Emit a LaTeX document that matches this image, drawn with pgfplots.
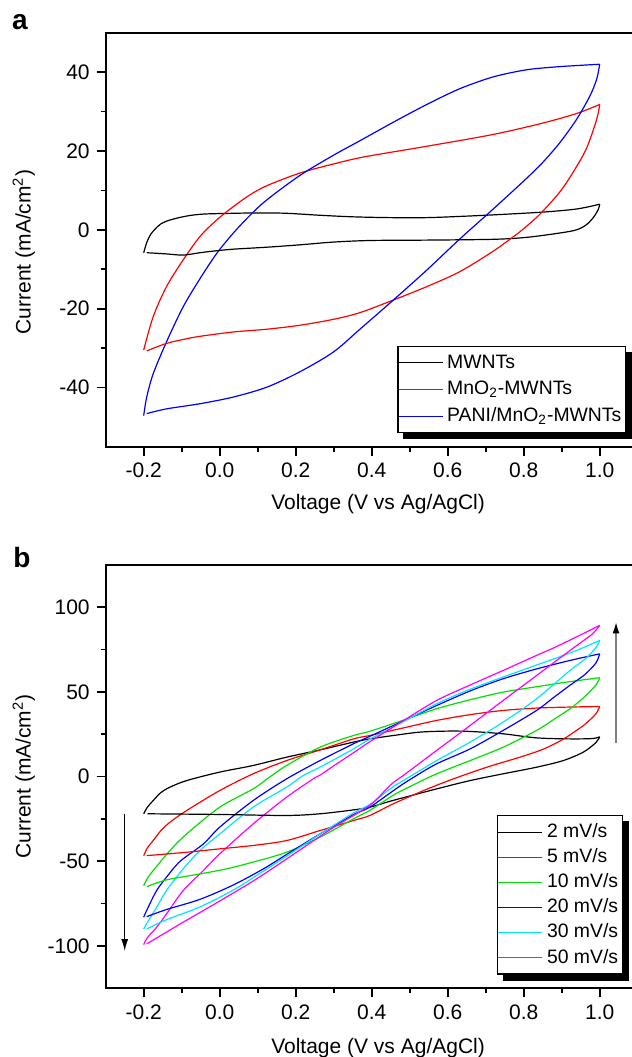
\documentclass[border=0pt]{standalone}
\usepackage{fontspec}
\setmainfont{Liberation Sans}
\usepackage{pgfplots}
\pgfplotsset{compat=1.18}
\usetikzlibrary{arrows.meta,backgrounds}

\definecolor{cvgreen}{RGB}{0,225,0}
\definecolor{cvcyan}{RGB}{0,230,255}
\definecolor{cvmag}{RGB}{255,0,255}

\pgfplotsset{
  cvaxis/.style={
    scale only axis, width=266pt,
    xmin=-0.3, xmax=1.1,
    xtick={-0.2,0,0.2,0.4,0.6,0.8,1.0},
    xticklabels={-0.2,0.0,0.2,0.4,0.6,0.8,1.0},
    minor x tick num=1, minor y tick num=1,
    tick align=outside, xtick pos=left, ytick pos=left,
    major tick length=4.5pt, minor tick length=2.5pt,
    axis line style={line width=1pt},
    every tick/.style={black, line width=0.8pt},
    tick label style={font=\fontsize{10.5}{12}\selectfont},
    label style={font=\fontsize{10.5}{12}\selectfont},
    xlabel={Voltage (V vs Ag/AgCl)},
    ylabel={Current (mA/cm\textsuperscript{2})},
    legend cell align=left,
    legend image code/.code={\draw[#1] (0pt,0pt) -- (22pt,0pt);},
    legend style={draw=black, line width=0.6pt, fill=white,
      font=\fontsize{9.7}{11}\selectfont,
      inner xsep=0pt, inner ysep=2pt},
    every axis plot/.append style={line width=0.6pt, smooth, no markers},
  }
}

\begin{document}
\begin{tikzpicture}

% ---- panel a ----
\begin{axis}[cvaxis,
  at={(52.85pt,-16.35pt)}, anchor=north west, height=207pt,
  ymin=-55, ymax=50,
  ytick={-40,-20,0,20,40}, yticklabels={-40,-20,0,20,40},
  xlabel style={at={(axis description cs:0.512,0)}, yshift=-28.5pt, anchor=center},
  ylabel style={at={(axis description cs:-0.154,0.47)}, anchor=center},
  legend style={at={(0.978,0.243)}, anchor=north east, name=legA, row sep=1pt},
]
\addplot[black] coordinates {(-0.2,-5.8) (-0.192,-3.2) (-0.182,-1.2) (-0.17,0.2) (-0.155,1.5) (-0.131,2.5) (-0.087,3.5) (-0.043,4.0) (0.036,4.2) (0.106,4.3) (0.176,4.2) (0.264,3.7) (0.352,3.3) (0.45,3.1) (0.545,3.1) (0.63,3.4) (0.72,3.8) (0.85,4.5) (0.94,5.3) (1.0,6.5)};
\addlegendentry{MWNTs}
\addplot[red] coordinates {(-0.2,-30.5) (-0.175,-22) (-0.14,-14.4) (-0.096,-7.6) (-0.052,-1.7) (-0.008,2.5) (0.036,5.9) (0.08,8.9) (0.124,11.2) (0.211,14.4) (0.299,16.7) (0.38,18.5) (0.545,21.2) (0.72,24.2) (0.851,27.1) (0.939,29.5) (1.0,31.8)};
\addlegendentry{MnO\textsubscript{2}-MWNTs}
\addplot[blue] coordinates {(-0.2,-47.1) (-0.192,-42.4) (-0.175,-36.5) (-0.14,-28.4) (-0.096,-19.5) (-0.052,-12.4) (-0.008,-6.0) (0.036,-0.8) (0.08,3.7) (0.124,7.6) (0.211,13.8) (0.299,18.9) (0.369,22.6) (0.457,27.3) (0.545,31.8) (0.632,35.8) (0.72,38.8) (0.808,40.6) (0.895,41.4) (1.0,42.0)};
\addlegendentry{PANI/MnO\textsubscript{2}-MWNTs}
% reverse scans
\addplot[black, forget plot] coordinates {(1.0,6.5) (0.996,5.1) (0.983,3.1) (0.965,1.3) (0.939,0) (0.895,-0.8) (0.808,-1.9) (0.72,-2.4) (0.545,-2.6) (0.396,-2.7) (0.299,-3.1) (0.211,-3.8) (0.124,-4.4) (0.036,-4.9) (-0.008,-5.3) (-0.052,-5.8) (-0.096,-6.4) (-0.14,-6.1) (-0.192,-5.8)};
\addplot[red, forget plot] coordinates {(1.0,31.8) (0.992,28.0) (0.965,20.6) (0.93,14.6) (0.895,9.6) (0.843,4.0) (0.8,0.3) (0.772,-1.8) (0.72,-5.4) (0.632,-10.6) (0.545,-14.4) (0.457,-17.8) (0.369,-21.0) (0.299,-22.7) (0.211,-24.2) (0.124,-25.2) (0.036,-25.9) (-0.052,-27.0) (-0.096,-27.8) (-0.14,-28.8) (-0.192,-30.7)};
\addplot[blue, forget plot] coordinates {(1.0,42.0) (0.992,38.2) (0.974,33.9) (0.939,28.0) (0.895,22.1) (0.851,17.2) (0.808,13.1) (0.72,5.3) (0.632,-2.3) (0.545,-10.2) (0.457,-17.8) (0.369,-25.2) (0.299,-31.0) (0.211,-36.0) (0.124,-39.9) (0.036,-42.4) (-0.052,-44.1) (-0.14,-45.4) (-0.192,-46.6)};
\end{axis}

% ---- panel b ----
\begin{axis}[cvaxis,
  at={(52.85pt,-282.35pt)}, anchor=north west, height=211.8pt,
  ymin=-125, ymax=125,
  ytick={-100,-50,0,50,100}, yticklabels={-100,-50,0,50,100},
  xlabel style={at={(axis description cs:0.512,0)}, yshift=-30pt, anchor=center},
  ylabel style={at={(axis description cs:-0.154,0.5)}, anchor=center},
  legend style={at={(0.972,0.409)}, anchor=north east, name=legB},
]
\addplot[black] coordinates {(-0.2,-22) (-0.19,-18) (-0.175,-14.2) (-0.155,-9.5) (-0.131,-6.3) (-0.087,-2.4) (0,2.6) (0.088,6.5) (0.176,11.4) (0.264,15.7) (0.352,20.3) (0.395,22.2) (0.457,24.2) (0.527,26.2) (0.6,26.8) (0.659,26.6) (0.746,25.2) (0.834,22.8) (0.922,22.2) (0.98,22.4) (1.0,23.4)};
\addlegendentry{2 mV/s}
\addplot[red] coordinates {(-0.2,-46.7) (-0.19,-42) (-0.175,-37.8) (-0.155,-32) (-0.131,-27) (-0.087,-20.1) (0,-8.3) (0.088,1.6) (0.176,9.4) (0.264,15.7) (0.352,22.2) (0.395,24.2) (0.48,28.5) (0.571,33.1) (0.659,36.5) (0.746,39) (0.834,40.4) (0.922,41) (1.0,41.3)};
\addlegendentry{5 mV/s}
\addplot[cvgreen] coordinates {(-0.2,-64.4) (-0.19,-60) (-0.175,-55.5) (-0.131,-43.7) (-0.087,-33.9) (0,-18.1) (0.088,-7.3) (0.131,-0.4) (0.176,6.5) (0.264,17.3) (0.352,24.2) (0.395,26.7) (0.48,33) (0.571,40) (0.659,45.3) (0.746,49.8) (0.834,53) (0.922,56) (1.0,58.3)};
\addlegendentry{10 mV/s}
\addplot[blue] coordinates {(-0.2,-83) (-0.19,-78) (-0.166,-67.3) (-0.14,-59.4) (-0.104,-50) (-0.043,-39.8) (0,-29.9) (0.088,-14.2) (0.176,-1.4) (0.264,9.4) (0.352,19.3) (0.395,23.7) (0.48,32.5) (0.571,41.9) (0.659,50.5) (0.746,57.7) (0.834,63.5) (0.922,68.5) (1.0,72.4)};
\addlegendentry{20 mV/s}
\addplot[cvcyan] coordinates {(-0.2,-90) (-0.19,-86) (-0.166,-77.2) (-0.14,-67.3) (-0.096,-54.5) (-0.052,-43.7) (0,-33.9) (0.088,-18.1) (0.176,-6.3) (0.22,0.6) (0.264,5.5) (0.352,16.3) (0.395,22) (0.48,32) (0.571,42.9) (0.659,51.5) (0.746,58.7) (0.834,65.8) (0.878,69.3) (0.94,74.5) (1.0,80.3)};
\addlegendentry{30 mV/s}
\addplot[cvmag] coordinates {(-0.2,-99.2) (-0.19,-95) (-0.166,-89) (-0.14,-81.1) (-0.096,-67.3) (-0.043,-55.5) (0,-45.7) (0.088,-28) (0.176,-12.2) (0.246,-1.4) (0.264,0.8) (0.308,7.5) (0.352,14) (0.395,20.5) (0.48,32.5) (0.571,44.9) (0.659,54) (0.746,62.6) (0.834,71.5) (0.878,75.8) (0.94,82.5) (1.0,89.2)};
\addlegendentry{50 mV/s}
% reverse scans
\addplot[black, forget plot] coordinates {(1.0,23.4) (0.99,20) (0.957,14.4) (0.904,9.4) (0.834,5.5) (0.746,1.6) (0.659,-2.4) (0.571,-7.3) (0.5,-11.5) (0.45,-14.5) (0.395,-18.1) (0.352,-19.7) (0.264,-22) (0.176,-23) (0.0,-22.4) (-0.19,-22)};
\addplot[red, forget plot] coordinates {(1.0,41.3) (0.99,37) (0.965,31.5) (0.939,27.2) (0.9,21.5) (0.85,16) (0.79,11.4) (0.703,5.5) (0.615,-1.4) (0.545,-7.5) (0.457,-16.1) (0.395,-23) (0.352,-26) (0.264,-31.9) (0.176,-37.8) (0.088,-40.7) (0,-42.7) (-0.087,-44.7) (-0.192,-46.7)};
\addplot[cvgreen, forget plot] coordinates {(1.0,58.3) (0.99,54) (0.96,47) (0.922,40) (0.878,33.5) (0.834,27.2) (0.746,17.3) (0.659,9.4) (0.571,1.6) (0.5,-6) (0.457,-11) (0.395,-20) (0.352,-25) (0.264,-35.8) (0.176,-44.7) (0.088,-50.5) (0.018,-54.5) (-0.052,-57.5) (-0.14,-61) (-0.192,-65)};
\addplot[blue, forget plot] coordinates {(1.0,72.4) (0.99,67) (0.96,60) (0.922,53.9) (0.878,46.5) (0.834,39) (0.746,27.2) (0.659,16.3) (0.571,7.5) (0.51,-0.5) (0.47,-6.3) (0.395,-18.1) (0.352,-22.5) (0.264,-33.9) (0.176,-46) (0.115,-54.5) (0.036,-64) (-0.052,-72.5) (-0.14,-78.5) (-0.192,-82.7)};
\addplot[cvcyan, forget plot] coordinates {(1.0,80.3) (0.99,76) (0.96,69) (0.922,62.6) (0.834,45.9) (0.746,32.1) (0.659,20.3) (0.571,9.4) (0.483,-2.4) (0.45,-7) (0.395,-16.5) (0.352,-21.5) (0.264,-34) (0.176,-47) (0.1,-58) (0.036,-67) (-0.052,-77) (-0.14,-84.5) (-0.192,-90)};
\addplot[cvmag, forget plot] coordinates {(1.0,89.2) (0.98,84) (0.922,74.4) (0.834,59.6) (0.746,44.9) (0.659,30.1) (0.571,15.4) (0.483,0.6) (0.46,-3) (0.439,-7.3) (0.395,-17) (0.3,-30) (0.22,-42) (0.1,-60) (0,-73.5) (-0.1,-86.5) (-0.192,-98.8)};
% scan-rate arrows
\draw[black, line width=0.6pt, -{Latex[length=6pt,width=3.5pt]}] (axis cs:-0.25,-22) -- (axis cs:-0.25,-103);
\draw[gray, line width=1pt, -{Latex[length=6pt,width=3.5pt,black]}] (axis cs:1.043,19.5) -- (axis cs:1.043,91.5);
\end{axis}

% legend shadows
\begin{pgfonlayer}{background}
\fill[black] ([xshift=3pt,yshift=-3pt]legA.south west) rectangle ([xshift=3pt,yshift=-3pt]legA.north east);
\fill[black] ([xshift=3pt,yshift=-3pt]legB.south west) rectangle ([xshift=3pt,yshift=-3pt]legB.north east);
\end{pgfonlayer}

\node[font=\bfseries\fontsize{14}{16}\selectfont] at (10pt,-11pt) {a};
\node[font=\bfseries\fontsize{14}{16}\selectfont] at (11pt,-278.5pt) {b};

\pgfresetboundingbox
\path[use as bounding box] (0,0) rectangle (316pt,-528.5pt);
\end{tikzpicture}
\end{document}
